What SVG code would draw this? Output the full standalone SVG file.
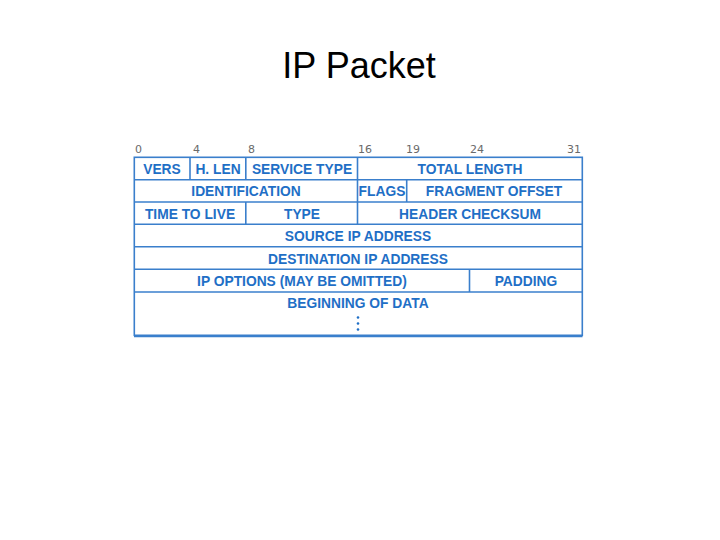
<svg xmlns="http://www.w3.org/2000/svg" width="720" height="540" viewBox="0 0 720 540">
<style>
.title{font-family:"Liberation Sans",Arial,sans-serif;font-size:36px;fill:#000}
.bit{font-family:"DejaVu Sans","Liberation Sans",sans-serif;font-size:11px;fill:#6a6a6a}
.f{font-family:"Liberation Sans",Arial,sans-serif;font-weight:bold;font-size:13.8px;fill:#1f6fc6;text-anchor:middle}
.ln{stroke:#3a7fcc;stroke-width:1.6;fill:none}
</style>
<rect width="720" height="540" fill="#fff"/>
<text class="title" x="359" y="77.5" text-anchor="middle">IP Packet</text>
<g id="bits">
<text class="bit" x="135" y="153">0</text>
<text class="bit" x="193" y="153">4</text>
<text class="bit" x="248" y="153">8</text>
<text class="bit" x="358" y="153">16</text>
<text class="bit" x="406" y="153">19</text>
<text class="bit" x="470" y="153">24</text>
<text class="bit" x="567" y="153">31</text>
</g>
<g id="grid">
<rect class="ln" x="134.3" y="157.3" width="448" height="178"/>
<line class="ln" x1="134" y1="336.5" x2="582.5" y2="336.5" stroke-width="1"/>
<line class="ln" x1="134.3" y1="179.8" x2="582.3" y2="179.8"/>
<line class="ln" x1="134.3" y1="202" x2="582.3" y2="202"/>
<line class="ln" x1="134.3" y1="224.3" x2="582.3" y2="224.3"/>
<line class="ln" x1="134.3" y1="246.7" x2="582.3" y2="246.7"/>
<line class="ln" x1="134.3" y1="269.3" x2="582.3" y2="269.3"/>
<line class="ln" x1="134.3" y1="292" x2="582.3" y2="292"/>
<line class="ln" x1="190" y1="157.3" x2="190" y2="179.8"/>
<line class="ln" x1="245.8" y1="157.3" x2="245.8" y2="179.8"/>
<line class="ln" x1="245.8" y1="202" x2="245.8" y2="224.3"/>
<line class="ln" x1="357.5" y1="157.3" x2="357.5" y2="224.3"/>
<line class="ln" x1="406.7" y1="179.8" x2="406.7" y2="202"/>
<line class="ln" x1="469.5" y1="269.3" x2="469.5" y2="292"/>
</g>
<g id="row1">
<text class="f" x="162" y="174">VERS</text>
<text class="f" x="218" y="174">H. LEN</text>
<text class="f" x="302" y="174">SERVICE TYPE</text>
<text class="f" x="470" y="174">TOTAL LENGTH</text>
</g>
<g id="row2">
<text class="f" x="246" y="196">IDENTIFICATION</text>
<text class="f" x="382" y="196">FLAGS</text>
<text class="f" x="494" y="196">FRAGMENT OFFSET</text>
</g>
<g id="row3">
<text class="f" x="190" y="218.5">TIME TO LIVE</text>
<text class="f" x="302" y="218.5">TYPE</text>
<text class="f" x="470" y="218.5">HEADER CHECKSUM</text>
</g>
<g id="row4"><text class="f" x="358" y="241">SOURCE IP ADDRESS</text></g>
<g id="row5"><text class="f" x="358" y="263.5">DESTINATION IP ADDRESS</text></g>
<g id="row6">
<text class="f" x="302" y="286">IP OPTIONS (MAY BE OMITTED)</text>
<text class="f" x="526" y="286">PADDING</text>
</g>
<g id="row7">
<text class="f" x="358" y="308">BEGINNING OF DATA</text>
<circle cx="358" cy="317.5" r="1.3" fill="#1f6fc6"/>
<circle cx="358" cy="323.5" r="1.3" fill="#1f6fc6"/>
<circle cx="358" cy="329.5" r="1.3" fill="#1f6fc6"/>
</g>
</svg>
